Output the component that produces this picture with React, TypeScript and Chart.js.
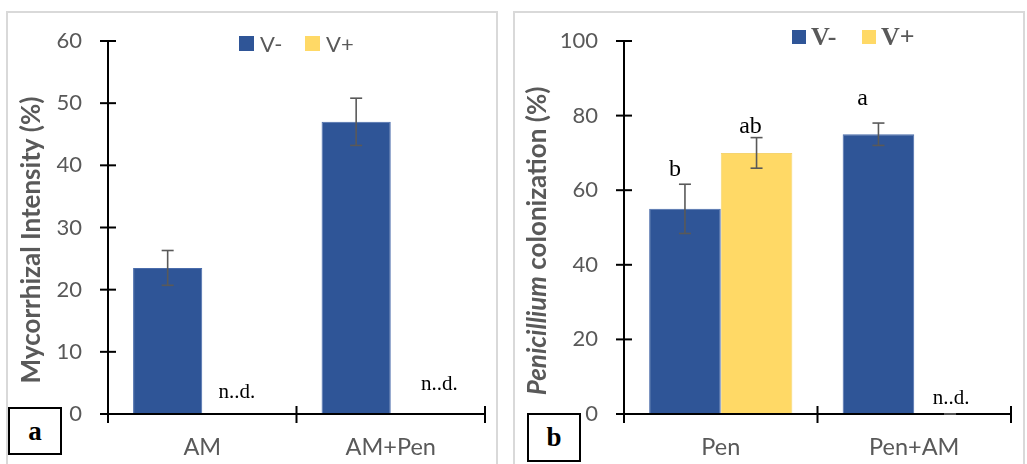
import React, { useEffect, useRef } from 'react';
import { Chart, registerables } from 'chart.js';

Chart.register(...registerables);

// Series shared by both panels
const seriesLabels = ['V-', 'V+'];
const seriesColors = ['#2F5597', '#FFD966'];

// Panel a: mycorrhizal intensity
const categoriesA = ['AM', 'AM+Pen'];
const vMinusA = [23.5, 47];
const vMinusErrA = [2.8, 3.8];
const vPlusA: (number | null)[] = [null, null];
const vPlusErrA: (number | null)[] = [null, null];
const ticksA = [0, 10, 20, 30, 40, 50, 60];

// Panel b: Penicillium colonization
const categoriesB = ['Pen', 'Pen+AM'];
const vMinusB = [55, 75];
const vMinusErrB = [6.6, 3];
const vPlusB: (number | null)[] = [70, 0];
const vPlusErrB: (number | null)[] = [4.1, 0];
const lettersMinusB = ['b', 'a'];
const lettersPlusB = ['ab', ''];
const ticksB = [0, 20, 40, 60, 80, 100];

const GREY = '#595959';
const SANS = 'Lato, "Open Sans", sans-serif';
const SERIF = '"Liberation Serif", "DejaVu Serif", serif';

type Decor = {
  legend: { x: number; y: number; size: number; gap: number; textGap: number; font: string };
  title: { x: number; y: number; parts: { text: string; font: string }[] };
  errors: (number | null)[][];
  letters?: { text: string; ds: number; idx: number; lift: number; dx: number }[];
  nd: { ds: number; idx: number; dx: number; y: number }[];
};

const decorPlugin = {
  id: 'panelDecor',
  afterDraw(chart: any, _args: any, opts: Decor) {
    const { ctx, chartArea } = chart;
    const xs = chart.scales.x;
    const ys = chart.scales.y;
    const x0 = chartArea.left;
    const yb = ys.getPixelForValue(0);
    ctx.save();

    // axes with crossing tick marks
    ctx.strokeStyle = '#000';
    ctx.lineWidth = 2;
    const line = (a: number, b: number, c: number, d: number) => {
      ctx.beginPath();
      ctx.moveTo(a, b);
      ctx.lineTo(c, d);
      ctx.stroke();
    };
    line(x0, chartArea.top, x0, yb + 9);
    line(x0 - 8, yb, chartArea.right, yb);
    ys.ticks.forEach((t: any) => {
      const py = ys.getPixelForValue(t.value);
      line(x0 - 8, py, x0 + 8, py);
    });
    const n = chart.data.labels.length;
    for (let i = 0; i <= n; i++) {
      const px = xs.getPixelForValue(i - 0.5);
      line(px, yb - 8, px, yb + 9);
    }

    // error bars
    ctx.strokeStyle = '#595959';
    ctx.lineWidth = 1.6;
    chart.data.datasets.forEach((ds: any, di: number) => {
      const meta = chart.getDatasetMeta(di);
      ds.data.forEach((v: number | null, j: number) => {
        const e = opts.errors[di][j];
        if (v === null || e === null) return;
        const cx = meta.data[j].x;
        const top = ys.getPixelForValue(v + e);
        const bot = ys.getPixelForValue(v - e);
        line(cx, top, cx, bot);
        line(cx - 6, top, cx + 6, top);
        line(cx - 6, bot, cx + 6, bot);
      });
    });

    // significance letters
    ctx.fillStyle = '#000';
    ctx.font = `24px ${SERIF}`;
    ctx.textAlign = 'center';
    ctx.textBaseline = 'alphabetic';
    (opts.letters || []).forEach((l) => {
      if (!l.text) return;
      const ds = chart.data.datasets[l.ds];
      const v = ds.data[l.idx];
      const e = opts.errors[l.ds][l.idx] || 0;
      const cx = chart.getDatasetMeta(l.ds).data[l.idx].x;
      ctx.fillText(l.text, cx + l.dx, ys.getPixelForValue(v + e) - l.lift);
    });

    // not-detected notes
    ctx.font = `21px ${SERIF}`;
    ctx.textBaseline = 'middle';
    opts.nd.forEach((d) => {
      const cx = chart.getDatasetMeta(d.ds).data[d.idx].x;
      ctx.fillText('n..d.', cx + d.dx, d.y);
    });

    // legend
    const L = opts.legend;
    let lx = L.x;
    ctx.font = L.font;
    ctx.textAlign = 'left';
    ctx.textBaseline = 'middle';
    chart.data.datasets.forEach((ds: any) => {
      ctx.fillStyle = ds.backgroundColor;
      ctx.fillRect(lx, L.y, L.size, L.size);
      ctx.fillStyle = GREY;
      ctx.fillText(ds.label, lx + L.size + L.textGap, L.y + L.size / 2 + 1);
      lx += L.gap;
    });

    // rotated axis title
    const T = opts.title;
    ctx.translate(T.x, T.y);
    ctx.rotate(-Math.PI / 2);
    let total = 0;
    const widths = T.parts.map((p) => {
      ctx.font = p.font;
      const w = ctx.measureText(p.text).width;
      total += w;
      return w;
    });
    let tx = -total / 2;
    ctx.fillStyle = GREY;
    T.parts.forEach((p, i) => {
      ctx.font = p.font;
      ctx.fillText(p.text, tx, 0);
      tx += widths[i];
    });
    ctx.restore();
  },
};

function makeConfig(
  labels: string[],
  minus: (number | null)[],
  plus: (number | null)[],
  ticks: number[],
  axisWidth: number,
  rightPad: number,
  catPct: number,
  decor: Decor
): any {
  return {
    type: 'bar',
    data: {
      labels,
      datasets: [
        { label: seriesLabels[0], data: minus, backgroundColor: seriesColors[0], borderColor: '#4a6cab', borderWidth: 1 },
        { label: seriesLabels[1], data: plus, backgroundColor: seriesColors[1], borderColor: '#f5d470', borderWidth: 1 },
      ],
    },
    plugins: [decorPlugin],
    options: {
      animation: false,
      responsive: false,
      maintainAspectRatio: false,
      layout: { padding: { top: 41, right: rightPad, left: 0, bottom: 0 } },
      datasets: { bar: { categoryPercentage: catPct, barPercentage: 1 } },
      plugins: {
        legend: { display: false },
        tooltip: { enabled: false },
        panelDecor: decor,
      },
      scales: {
        x: {
          type: 'category',
          grid: { display: false, drawTicks: false },
          border: { display: false },
          ticks: { color: GREY, font: { family: SANS, size: 23.5 }, padding: 19 },
          afterFit: (s: any) => { s.height = 50; },
        },
        y: {
          min: ticks[0],
          max: ticks[ticks.length - 1],
          afterBuildTicks: (s: any) => { s.ticks = ticks.map((v) => ({ value: v })); },
          grid: { display: false, drawTicks: false },
          border: { display: false },
          ticks: { color: GREY, font: { family: SANS, size: 22 }, padding: 26 },
          afterFit: (s: any) => { s.width = axisWidth; },
        },
      },
    },
  };
}

function Panel(props: { config: any; left: number; width: number }) {
  const ref = useRef<HTMLCanvasElement | null>(null);
  useEffect(() => {
    const chart = new Chart(ref.current as HTMLCanvasElement, props.config);
    return () => chart.destroy();
  }, []);
  return (
    <canvas
      ref={ref}
      width={props.width}
      height={464}
      style={{ position: 'absolute', left: props.left, top: 0, width: props.width, height: 464 }}
    />
  );
}

const boxStyle = (left: number, top: number, w: number, h: number): React.CSSProperties => ({
  position: 'absolute',
  left,
  top,
  width: w,
  height: h,
  border: '2px solid #000',
  boxSizing: 'border-box',
  background: '#fff',
  display: 'flex',
  alignItems: 'center',
  justifyContent: 'center',
  fontFamily: SERIF,
  fontWeight: 'bold',
  fontSize: 27,
  color: '#000',
});

export default function App() {
  const cfgA = makeConfig(categoriesA, vMinusA, vPlusA, ticksA, 108, 25, 0.734, {
    legend: { x: 239, y: 36, size: 15, gap: 66, textGap: 6, font: `22px ${SANS}` },
    title: { x: 32, y: 240, parts: [{ text: 'Mycorrhizal Intensity (%)', font: `bold 26px ${SANS}` }] },
    errors: [vMinusErrA, vPlusErrA],
    nd: [
      { ds: 1, idx: 0, dx: 0, y: 392 },
      { ds: 1, idx: 1, dx: 14, y: 384 },
    ],
  });
  const cfgB = makeConfig(categoriesB, vMinusB, vPlusB, ticksB, 114, 16, 0.74, {
    legend: { x: 282, y: 30, size: 14, gap: 70, textGap: 5, font: `bold 26px ${SERIF}` },
    title: {
      x: 28,
      y: 241,
      parts: [
        { text: 'Penicillium', font: `italic bold 26px ${SANS}` },
        { text: ' colonization (%)', font: `bold 26px ${SANS}` },
      ],
    },
    errors: [vMinusErrB, vPlusErrB],
    letters: [
      { text: lettersMinusB[0], ds: 0, idx: 0, lift: 8, dx: -10 },
      { text: lettersPlusB[0], ds: 1, idx: 0, lift: 5, dx: -6 },
      { text: lettersMinusB[1], ds: 0, idx: 1, lift: 18, dx: -16 },
    ],
    nd: [{ ds: 1, idx: 1, dx: 1, y: 398 }],
  });

  return (
    <div style={{ position: 'fixed', left: 0, top: 0, width: 1027, height: 464, background: '#fff', overflow: 'hidden' }}>
      <div style={{ position: 'absolute', left: 6, top: 11, width: 492, height: 470, border: '2px solid #d9d9d9', boxSizing: 'border-box' }} />
      <div style={{ position: 'absolute', left: 513, top: 11, width: 512, height: 470, border: '2px solid #d9d9d9', boxSizing: 'border-box' }} />
      <Panel config={cfgA} left={0} width={510} />
      <Panel config={cfgB} left={510} width={517} />
      <div style={boxStyle(8, 407, 54, 48)}>a</div>
      <div style={boxStyle(527, 413, 54, 49)}>b</div>
    </div>
  );
}
